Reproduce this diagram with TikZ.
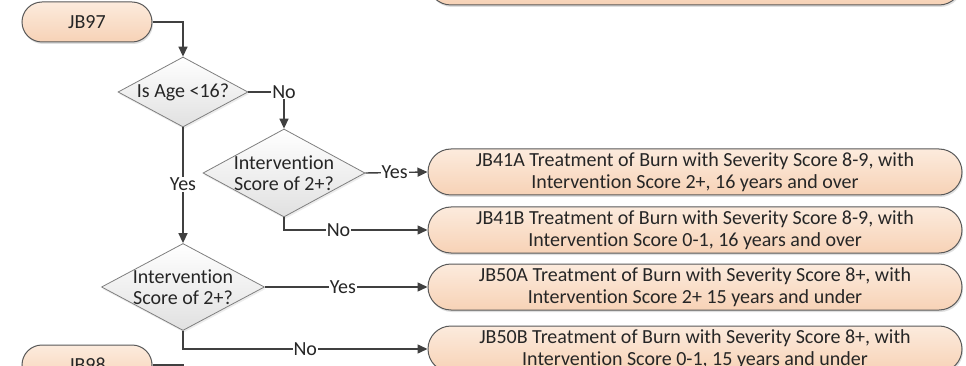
\documentclass[tikz,border=0pt]{standalone}
\usepackage{fontspec}
\setmainfont[Ligatures={NoCommon}]{Carlito}
\usetikzlibrary{shapes.geometric,shapes.misc,arrows.meta,shadows}
\definecolor{txt}{HTML}{262626}
\definecolor{edge}{HTML}{595959}
\definecolor{lineC}{HTML}{404040}
\definecolor{peachTop}{HTML}{FCEBDD}
\definecolor{peachBot}{HTML}{F7D2B6}
\definecolor{dgray}{HTML}{7F7F7F}
\tikzset{
  term/.style={rounded rectangle, draw=edge, line width=1pt, top color=peachTop, bottom color=peachBot,
    minimum width=130pt, minimum height=40pt, inner sep=0pt, font=\fontsize{20}{22}\selectfont, text=txt,
    drop shadow={shadow xshift=1pt, shadow yshift=-2pt, opacity=0.25}},
  outbox/.style={rounded rectangle, draw=edge, line width=1pt, top color=peachTop, bottom color=peachBot,
    minimum width=534pt, minimum height=46pt, inner sep=0pt, align=center,
    font=\fontsize{20}{22}\selectfont, text=txt,
    drop shadow={shadow xshift=1pt, shadow yshift=-2pt, opacity=0.25}},
  decision/.style={diamond, draw=dgray, line width=0.8pt, top color=white, bottom color=black!12,
    inner sep=0pt, drop shadow={shadow xshift=1pt, shadow yshift=-2pt, opacity=0.15}},
  dtext/.style={text=txt, font=\fontsize{20}{21}\selectfont, align=center, inner sep=0pt},
  conn/.style={draw=lineC, line width=1.4pt, -{Triangle[length=10pt,width=9pt]}},
  plain/.style={draw=lineC, line width=1.4pt},
  lbl/.style={fill=white, inner sep=1pt, text=txt, font=\fontsize{20}{22}\selectfont}
}
\begin{document}
\begin{tikzpicture}[x=1pt,y=-1pt]
\useasboundingbox (0,0) rectangle (966,366);
\clip (0,0) rectangle (966,366);
\fill[white] (0,0) rectangle (966,366);

% nodes
\node[outbox] (top) at (695,-18) {};
\node[term] (jb97) at (87,22) {JB97};
\node[decision, minimum width=130pt, minimum height=70pt] (d1) at (183,92) {};
\node[dtext] (d1t) at (d1) {Is Age <16?};
\node[decision, minimum width=162pt, minimum height=88pt] (d2) at (284,173) {};
\node[dtext] (d2t) at (d2) {Intervention\\Score of 2+?};
\node[decision, minimum width=163pt, minimum height=87pt] (d3) at (183,287) {};
\node[dtext] (d3t) at (d3) {Intervention\\Score of 2+?};

\node[outbox] (jb41a) at (695,172) {JB41A Treatment of Burn with Severity Score 8-9, with\\Intervention Score 2+, 16 years and over};
\node[outbox] (jb41b) at (695,230) {JB41B Treatment of Burn with Severity Score 8-9, with\\Intervention Score 0-1, 16 years and over};
\node[outbox] (jb50a) at (695,287) {JB50A Treatment of Burn with Severity Score 8+, with\\Intervention Score 2+ 15 years and under};
\node[outbox] (jb50b) at (695,349) {JB50B Treatment of Burn with Severity Score 8+, with\\Intervention Score 0-1, 15 years and under};
\node[term] (jb98) at (87,365) {JB98};
\coordinate (jb98end) at (183,400);

% connectors
\draw[conn] (jb97.east) -| (d1.north);
\draw[conn] (d1.east) -| node[lbl, pos=0.5] {No} (d2.north);
\draw[conn] (d1.south) -- node[lbl, pos=0.49] {Yes} (d3.north);
\draw[conn] (d2.east) -- node[lbl, pos=0.47] {Yes} (jb41a.west);
\draw[conn] (d2.south) |- node[lbl, pos=0.69] {No} (jb41b.west);
\draw[conn] (d3.east) -- node[lbl, pos=0.48] {Yes} (jb50a.west);
\draw[conn] (d3.south) |- node[lbl, pos=0.75] {No} (jb50b.west);
\draw[plain] (jb98.east) -| (jb98end);
\end{tikzpicture}
\end{document}
